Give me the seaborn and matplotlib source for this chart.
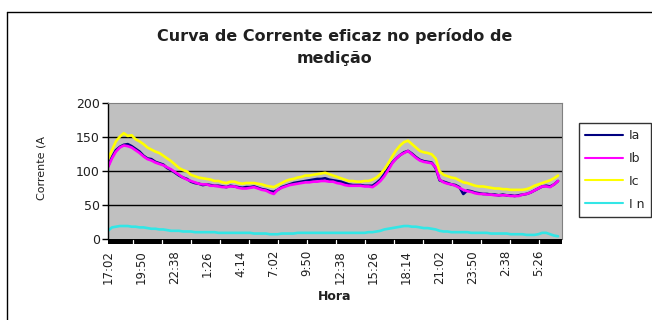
import numpy as np
import pandas as pd
import seaborn as sns
import matplotlib
matplotlib.use("Agg")
import matplotlib.pyplot as plt
from matplotlib.patches import Rectangle
from matplotlib.lines import Line2D

# Medição a cada 20 minutos a partir das 17:02
passo_min = 20

ia = [107, 120, 130, 135, 138, 139, 136, 132, 128, 122, 118, 117, 113, 111, 109, 104, 101, 97, 93, 90,
      88, 84, 82, 81, 79, 80, 79, 78, 78, 77, 76, 78, 77, 76, 75, 76, 76, 77, 75, 73,
      72, 70, 69, 72, 76, 78, 80, 82, 83, 84, 85, 86, 87, 88, 88, 89, 87, 86, 85, 84,
      82, 80, 79, 79, 79, 78, 78, 78, 82, 87, 95, 104, 112, 118, 123, 127, 129, 125, 120, 116,
      114, 113, 112, 104, 86, 84, 82, 80, 79, 76, 66, 71, 70, 68, 67, 66, 66, 65, 65, 64,
      65, 64, 64, 63, 64, 65, 66, 68, 71, 74, 77, 78, 77, 80, 85]
ib = [105, 118, 128, 134, 137, 136, 134, 130, 126, 121, 117, 115, 112, 110, 108, 105, 102, 98, 94, 90,
      87, 85, 83, 81, 80, 80, 78, 78, 77, 76, 76, 77, 77, 75, 74, 74, 75, 76, 74, 72,
      71, 68, 66, 72, 75, 77, 79, 80, 81, 82, 83, 83, 84, 84, 85, 85, 84, 84, 82, 81,
      79, 78, 78, 78, 78, 77, 77, 76, 80, 85, 92, 101, 111, 118, 123, 126, 129, 124, 119, 115,
      113, 112, 111, 105, 87, 83, 81, 80, 78, 75, 72, 70, 69, 67, 66, 66, 65, 65, 64, 64,
      64, 64, 63, 63, 63, 65, 66, 68, 71, 74, 77, 77, 76, 80, 85]
ic = [117, 130, 143, 150, 155, 151, 152, 146, 143, 139, 134, 131, 128, 126, 122, 118, 114, 109, 104, 101,
      99, 94, 92, 90, 89, 88, 87, 85, 85, 83, 82, 84, 84, 82, 81, 82, 82, 82, 81, 80,
      78, 77, 76, 79, 82, 85, 87, 88, 90, 91, 93, 93, 94, 95, 96, 97, 95, 93, 91, 89,
      87, 85, 85, 84, 84, 85, 85, 87, 90, 95, 102, 111, 121, 130, 137, 142, 144, 139, 134, 129,
      127, 126, 124, 118, 99, 94, 92, 90, 89, 86, 83, 82, 80, 78, 77, 77, 76, 75, 74, 74,
      73, 73, 72, 72, 72, 72, 73, 75, 78, 80, 82, 84, 86, 89, 93]
i_n = [12, 17, 18, 19, 19, 19, 18, 18, 17, 17, 16, 15, 15, 14, 14, 13, 12, 12, 12, 11,
       11, 11, 10, 10, 10, 10, 10, 10, 9, 9, 9, 9, 9, 9, 9, 9, 9, 8, 8, 8,
       8, 7, 7, 7, 8, 8, 8, 8, 9, 9, 9, 9, 9, 9, 9, 9, 9, 9, 9, 9,
       9, 9, 9, 9, 9, 9, 10, 10, 11, 12, 14, 15, 16, 17, 18, 19, 19, 18, 18, 17,
       16, 16, 15, 14, 12, 11, 11, 10, 10, 10, 10, 10, 9, 9, 9, 9, 9, 8, 8, 8,
       8, 8, 7, 7, 7, 7, 6, 6, 6, 7, 9, 9, 7, 5, 4]

fases = ["Ia", "Ib", "Ic", "In"]
rotulos_legenda = ["Ia", "Ib", "Ic", "I n"]
cores = ["#000080", "#FF00FF", "#FFFF00", "#33E6E6"]

rotulos_hora = ["17:02", "19:50", "22:38", "1:26", "4:14", "7:02", "9:50",
                "12:38", "15:26", "18:14", "21:02", "23:50", "2:38", "5:26"]
intervalo_rotulo_min = 168
duracao_min = 2300

titulo = "Curva de Corrente eficaz no período de\nmedição"
rotulo_y = "Corrente (A"
rotulo_x = "Hora"

tempo = np.arange(len(ia)) * passo_min
df = pd.concat([
    pd.DataFrame({"t": tempo, "corrente": vals, "fase": nome})
    for nome, vals in zip(fases, [ia, ib, ic, i_n])
], ignore_index=True)

sns.set_style("white")
plt.rcParams["font.family"] = ["DejaVu Sans"]

W, H = 652, 320
fig = plt.figure(figsize=(W / 100, H / 100), dpi=100)
fig.patch.set_facecolor("white")

x0, x1 = 108, 562
y_top, y_bot = 102.5, 239
ax = fig.add_axes([x0 / W, 1 - y_bot / H, (x1 - x0) / W, (y_bot - y_top) / H])
ax.set_facecolor("#C0C0C0")

sns.lineplot(data=df, x="t", y="corrente", hue="fase", hue_order=fases,
             palette=dict(zip(fases, cores)), linewidth=1.9, ax=ax, legend=False)

ax.set_xlim(0, duracao_min)
ax.set_ylim(0, 200)
ax.set_yticks([0, 50, 100, 150, 200])
for v in [50, 100, 150]:
    ax.axhline(v, color="black", linewidth=1.0, zorder=1)

for s in ["top", "right"]:
    ax.spines[s].set_color("#808080")
    ax.spines[s].set_linewidth(0.8)
ax.spines["left"].set_color("black")
ax.spines["left"].set_linewidth(1.0)
ax.spines["bottom"].set_visible(False)

ax.tick_params(axis="y", direction="out", length=4, width=1, color="black",
               labelsize=9, labelcolor="#202020", pad=2, left=True)
ax.set_xticks(np.arange(len(rotulos_hora)) * intervalo_rotulo_min)
ax.set_xticklabels(rotulos_hora, rotation=90, fontsize=8.5, color="#202020")
ax.tick_params(axis="x", length=0, pad=8)

# faixa preta do eixo das categorias
band_h = 5 / (y_bot - y_top)
ax.add_patch(Rectangle((0, -band_h), 1, band_h, transform=ax.transAxes,
                       facecolor="black", edgecolor="none", clip_on=False, zorder=5))
for px in np.arange(133, 562, 29.0):
    fx = (px - x0) / (x1 - x0)
    ax.add_line(Line2D([fx, fx], [-band_h, -0.006], transform=ax.transAxes,
                       color="white", linewidth=0.9, clip_on=False, zorder=6))

ax.set_xlabel("")
ax.set_ylabel("")
fig.text(335 / W, 1 - 297 / H, rotulo_x, ha="center", va="center",
         fontsize=9, fontweight="bold", color="#202020")
fig.text(41 / W, 1 - 168 / H, rotulo_y, ha="center", va="center", rotation=90,
         fontsize=8, color="#202020")
fig.text(335 / W, 1 - 47 / H, titulo, ha="center", va="center",
         fontsize=11.5, fontweight="bold", color="#202020", linespacing=1.55)

# legenda
handles = [Line2D([], [], color=c, linewidth=1.5) for c in cores]
leg = fig.legend(handles, rotulos_legenda, loc="upper left",
                 bbox_to_anchor=(579 / W, 1 - 123 / H), frameon=True, fancybox=False,
                 fontsize=9, handlelength=3.0, handletextpad=0.5, labelspacing=0.78,
                 borderpad=0.5, borderaxespad=0)
leg.get_frame().set_edgecolor("black")
leg.get_frame().set_linewidth(1.0)

# moldura externa
fig.add_artist(Line2D([7 / W, 1], [1 - 12 / H, 1 - 12 / H], transform=fig.transFigure,
                      color="black", linewidth=1.0))
fig.add_artist(Line2D([7 / W, 7 / W], [0, 1 - 12 / H], transform=fig.transFigure,
                      color="black", linewidth=1.0))

fig.savefig("out.png", dpi=100)
